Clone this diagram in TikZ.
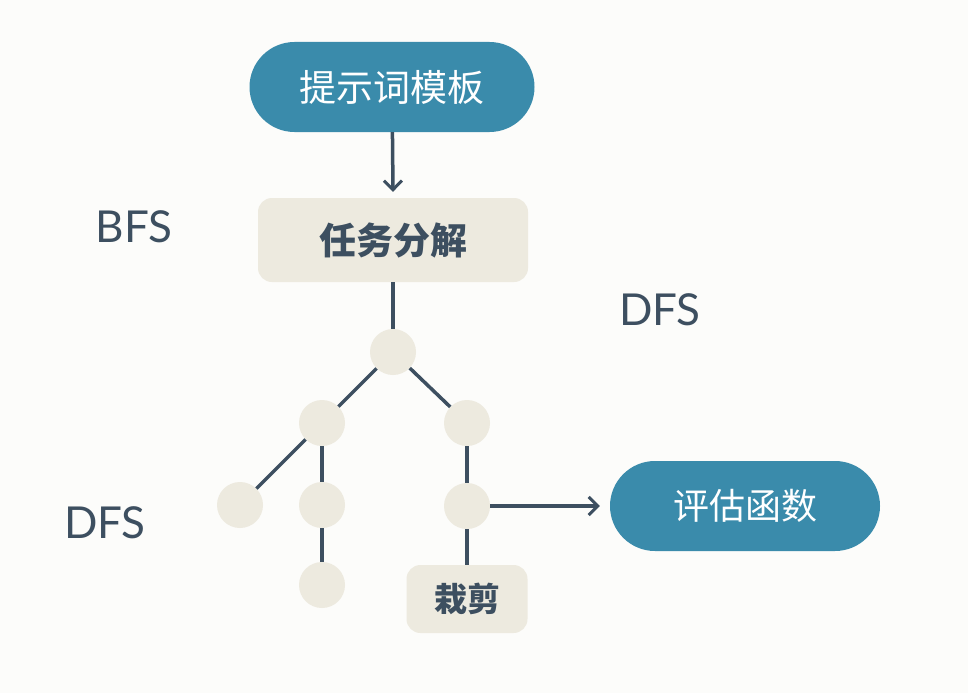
\documentclass[tikz,border=0pt]{standalone}
\usepackage{fontspec}
\setmainfont{Lato}
\newfontfamily\cjk{Noto Sans CJK SC}
\usepackage{xcolor}
\usetikzlibrary{arrows.meta}
\definecolor{teal}{HTML}{3A8BAB}
\definecolor{beige}{HTML}{EDEADF}
\definecolor{slate}{HTML}{3D4F60}
\definecolor{paper}{HTML}{FCFCFA}

\begin{document}
\begin{tikzpicture}[x=1pt, y=-1pt,
    pill/.style={draw=none, fill=teal, rounded corners=45pt, minimum width=285pt, minimum height=90pt, text=white, font=\cjk\fontsize{37}{40}\selectfont},
    card/.style={draw=none, fill=beige, rounded corners=14pt, text=slate, font=\cjk\bfseries\fontsize{37}{40}\selectfont},
    dot/.style={circle, fill=beige, minimum size=46pt, inner sep=0pt},
    tag/.style={text=slate, font=\fontsize{44}{48}\selectfont},
    link/.style={draw=slate, line width=3.5pt},
    arr/.style={link, -{Straight Barb[length=9pt, width=18pt, line width=3pt]}}]
  \fill[paper] (0,0) rectangle (968,693);
  \useasboundingbox (0,0) rectangle (968,693);

  \node[pill] (tmpl) at (392,87) {提示词模板};
  \node[card, minimum width=270pt, minimum height=84pt] (split) at (393,240) {任务分解};
  \node[dot] (root) at (393,352) {};
  \node[dot] (left) at (322,423) {};
  \node[dot] (right) at (467,423) {};
  \node[dot] (ll) at (240,505) {};
  \node[dot] (lm) at (322,505) {};
  \node[dot] (rm) at (467,506) {};
  \node[dot] (lb) at (322,585) {};
  \node[card, font=\cjk\bfseries\fontsize{33}{36}\selectfont, minimum width=121pt, minimum height=68pt] (prune) at (467,599) {栽剪};
  \node[pill, minimum width=270pt, font=\cjk\fontsize{36}{39}\selectfont] (eval) at (745,506) {评估函数};

  \node[tag] (bfs) at (134,227) {BFS};
  \node[tag] (dfsa) at (660,310) {DFS};
  \node[tag] (dfsb) at (105,523) {DFS};

  \draw[arr] (tmpl) -- ([yshift=6pt]split.north);
  \draw[link] (split) -- (root);
  \draw[link] (root) -- (left);
  \draw[link] (root) -- (right);
  \draw[link] (left) -- (ll);
  \draw[link] (left) -- (lm);
  \draw[link] (lm) -- (lb);
  \draw[link] (right) -- (rm);
  \draw[link] (rm) -- (prune);
  \draw[arr] (rm) -- ([xshift=-10pt]eval.west);
\end{tikzpicture}
\end{document}
